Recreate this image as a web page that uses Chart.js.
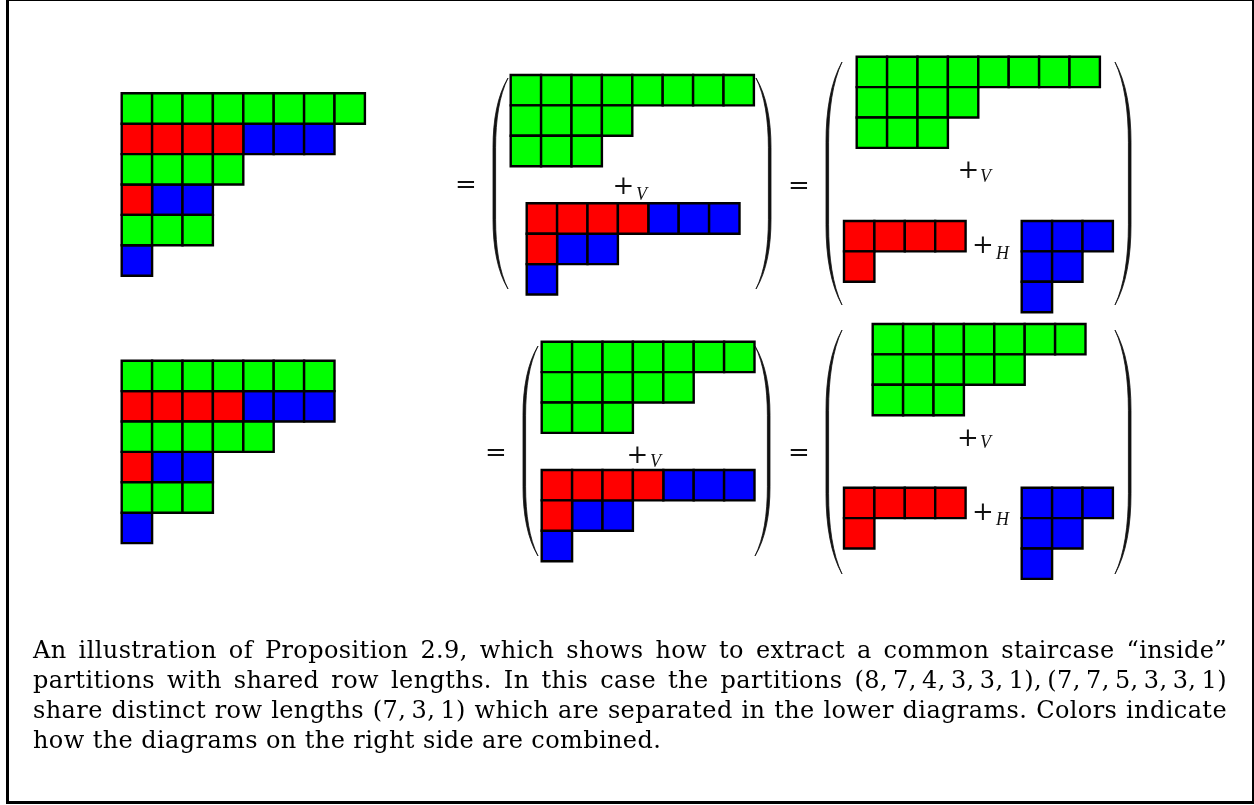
<!DOCTYPE html>
<html>
<head>
<meta charset="utf-8">
<script src="https://cdn.jsdelivr.net/npm/chart.js@4/dist/chart.umd.min.js"></script>
<style>
  body { margin: 0; background: #fff; }
  #page { position: relative; width: 1254px; height: 805px; overflow: hidden; background: #fff; }
  #frame { position: absolute; left: 6px; top: 0; width: 1248px; height: 804px; box-sizing: border-box;
           border-left: 3px solid #000; border-top: 1px solid #000; border-right: 2px solid #000; border-bottom: 3px solid #000; }
  #fig { position: absolute; left: 0; top: 0; }
  .sym { position: absolute; font: 26px "DejaVu Serif", serif; line-height: 1; transform: translate(-50%, -50%); color: #111; }
  .sub { position: absolute; font: italic 18px "Liberation Serif", serif; line-height: 1; color: #111; }
  #caption { position: absolute; left: 33px; top: 634.7px; width: 1194px; font: 24px "DejaVu Serif", serif; letter-spacing: 0.4px; line-height: 30px; color: #000; }
  #caption div { text-align: justify; text-align-last: justify; white-space: nowrap; }
  #caption div.last { text-align-last: left; }
</style>
</head>
<body>
<div id="page">
  <canvas id="fig" width="1254" height="805"></canvas>
  <div id="frame"></div>
  <div id="labels"></div>
  <div id="caption">
    <div>An illustration of Proposition 2.9, which shows how to extract a common staircase “inside”</div>
    <div>partitions with shared row lengths. In this case the partitions (8,&#8201;7,&#8201;4,&#8201;3,&#8201;3,&#8201;1),&#8201;(7,&#8201;7,&#8201;5,&#8201;3,&#8201;3,&#8201;1)</div>
    <div>share distinct row lengths (7,&#8201;3,&#8201;1) which are separated in the lower diagrams. Colors indicate</div>
    <div class="last">how the diagrams on the right side are combined.</div>
  </div>
</div>
<script>
// partitions, one string per row, G = green, R = red, B = blue
const firstWhole = ["GGGGGGGG", "RRRRBBB", "GGGG", "RBB", "GGG", "B"];
const firstStair = ["GGGGGGGG", "GGGG", "GGG"];
const firstRest = ["RRRRBBB", "RBB", "B"];
const firstRed = ["RRRR", "R"];
const firstBlue = ["BBB", "BB", "B"];

const secondWhole = ["GGGGGGG", "RRRRBBB", "GGGGG", "RBB", "GGG", "B"];
const secondStair = ["GGGGGGG", "GGGGG", "GGG"];
const secondRest = ["RRRRBBB", "RBB", "B"];
const secondRed = ["RRRR", "R"];
const secondBlue = ["BBB", "BB", "B"];

const colorNames = { G: "green", R: "red", B: "blue" };
const fills = { green: "#00ff00", red: "#ff0000", blue: "#0000ff" };

// where each diagram sits (top-left corner, px)
const CELL = 30.4;
const placed = [
  { rows: firstWhole, x: 121.7, y: 93.3 },
  { rows: firstStair, x: 510.7, y: 75 },
  { rows: firstRest, x: 526.7, y: 203.3 },
  { rows: firstStair, x: 856.7, y: 56.7 },
  { rows: firstRed, x: 844, y: 221 },
  { rows: firstBlue, x: 1021.7, y: 221 },
  { rows: secondWhole, x: 121.7, y: 360.7 },
  { rows: secondStair, x: 541.7, y: 341.7 },
  { rows: secondRest, x: 541.7, y: 470 },
  { rows: secondStair, x: 872.7, y: 324 },
  { rows: secondRed, x: 844, y: 487.7 },
  { rows: secondBlue, x: 1021.7, y: 487.7 },
];

const parens = [
  { xe: 508, xo: 493, top: 78, bot: 289 }, { xe: 756, xo: 771, top: 78, bot: 289 },
  { xe: 842, xo: 826, top: 62, bot: 305 }, { xe: 1115, xo: 1131, top: 62, bot: 305 },
  { xe: 538, xo: 523, top: 346, bot: 556 }, { xe: 755, xo: 770, top: 346, bot: 556 },
  { xe: 842, xo: 826, top: 330, bot: 574 }, { xe: 1115, xo: 1131, top: 330, bot: 574 },
];

const symbols = [
  ["=", 466, 184], ["=", 799, 185], ["=", 496, 452], ["=", 799, 452],
  ["+", 623.5, 185], ["+", 968.5, 169], ["+", 983, 244],
  ["+", 637.5, 453.5], ["+", 968, 436.5], ["+", 983, 511],
];
const subs = [
  ["V", 636, 200], ["V", 980, 182], ["H", 996, 259],
  ["V", 650, 467], ["V", 980, 448], ["H", 996, 525],
];

const points = { green: [], red: [], blue: [] };
placed.forEach((d) => {
  d.rows.forEach((row, r) => {
    [...row].forEach((c, k) => {
      points[colorNames[c]].push({ x: d.x + (k + 0.5) * CELL, y: d.y + (r + 0.5) * CELL });
    });
  });
});

function drawParen(ctx, p) {
  const dir = Math.sign(p.xe - p.xo);
  const k = (p.bot - p.top) * 0.33;
  const t = 2.6;
  const xi = p.xo + dir * t;
  ctx.beginPath();
  ctx.moveTo(p.xe, p.top);
  ctx.bezierCurveTo(p.xo + (p.xe - p.xo) * 0.3, p.top + k * 0.25, p.xo, p.top + k * 0.6, p.xo, p.top + k);
  ctx.lineTo(p.xo, p.bot - k);
  ctx.bezierCurveTo(p.xo, p.bot - k * 0.6, p.xo + (p.xe - p.xo) * 0.3, p.bot - k * 0.25, p.xe, p.bot);
  ctx.bezierCurveTo(xi + (p.xe - xi) * 0.3, p.bot - k * 0.25, xi, p.bot - k * 0.6, xi, p.bot - k);
  ctx.lineTo(xi, p.top + k);
  ctx.bezierCurveTo(xi, p.top + k * 0.6, xi + (p.xe - xi) * 0.3, p.top + k * 0.25, p.xe, p.top);
  ctx.closePath();
  ctx.fill();
  ctx.stroke();
}

const parenPlugin = {
  id: "parens",
  afterDatasetsDraw(chart) {
    const ctx = chart.ctx;
    const xs = chart.scales.x, ys = chart.scales.y;
    ctx.save();
    ctx.fillStyle = "#111";
    ctx.strokeStyle = "#111";
    ctx.lineWidth = 0.8;
    parens.forEach((p) => drawParen(ctx, {
      xe: xs.getPixelForValue(p.xe), xo: xs.getPixelForValue(p.xo),
      top: ys.getPixelForValue(p.top), bot: ys.getPixelForValue(p.bot),
    }));
    ctx.restore();
  },
};

new Chart(document.getElementById("fig"), {
  type: "scatter",
  data: {
    datasets: Object.keys(points).map((name) => ({
      label: name,
      data: points[name],
      pointStyle: "rect",
      pointRadius: CELL / Math.SQRT2,
      pointBackgroundColor: fills[name],
      pointBorderColor: "#000",
      pointBorderWidth: 2.4,
      clip: false,
    })),
  },
  options: {
    responsive: false,
    animation: false,
    events: [],
    layout: { padding: 0, autoPadding: false },
    plugins: { legend: { display: false }, tooltip: { enabled: false } },
    scales: {
      x: { type: "linear", min: 0, max: 1254, display: false },
      y: { type: "linear", min: 0, max: 805, reverse: true, display: false },
    },
  },
  plugins: [parenPlugin],
});

const labels = document.getElementById("labels");
symbols.forEach(([s, x, y]) => {
  const el = document.createElement("span");
  el.className = "sym";
  el.textContent = s;
  el.style.left = x + "px";
  el.style.top = y + "px";
  labels.appendChild(el);
});
subs.forEach(([s, x, base]) => {
  const el = document.createElement("span");
  el.className = "sub";
  el.textContent = s;
  el.style.left = x + "px";
  el.style.top = (base - 0.8375 * 18) + "px";
  labels.appendChild(el);
});
</script>
</body>
</html>
